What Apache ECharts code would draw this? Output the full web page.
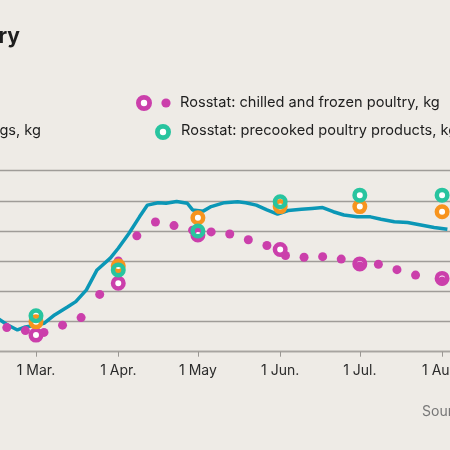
<!DOCTYPE html>
<html>
<head>
<meta charset="utf-8">
<script src="https://cdn.jsdelivr.net/npm/echarts@6/dist/echarts.min.js"></script>
<style>
html,body{margin:0;padding:0;background:#eeebe6;overflow:hidden;}
#c{width:450px;height:450px;}
</style>
</head>
<body>
<div id="c"></div>
<script>
// ---- data ----
const lineDates = ['2021-02-15','2021-02-18','2021-02-22','2021-02-25','2021-03-01','2021-03-04','2021-03-08','2021-03-13','2021-03-16','2021-03-20','2021-03-24','2021-03-29','2021-04-01','2021-04-05','2021-04-09','2021-04-12','2021-04-16','2021-04-19','2021-04-23','2021-04-27','2021-04-29','2021-05-03','2021-05-06','2021-05-11','2021-05-16','2021-05-19','2021-05-23','2021-05-27','2021-05-31','2021-06-04','2021-06-09','2021-06-13','2021-06-17','2021-06-21','2021-06-25','2021-06-30','2021-07-05','2021-07-09','2021-07-14','2021-07-19','2021-07-24','2021-07-29','2021-08-03'];
const lineValues = [10.8,9.0,7.2,8.2,8.8,9.4,12.2,14.9,16.6,20.5,27.1,31.0,34.3,39.2,44.7,48.6,49.4,49.2,49.8,49.2,47.0,46.6,48.1,49.4,49.7,49.4,48.6,47.0,45.6,46.8,47.2,47.5,47.8,46.4,45.3,44.7,44.7,43.9,43.1,42.8,42.0,41.2,40.6];

const weeklyDates = ['2021-02-18','2021-02-25','2021-03-04','2021-03-11','2021-03-18','2021-03-25','2021-04-01','2021-04-08','2021-04-15','2021-04-22','2021-04-29','2021-05-06','2021-05-13','2021-05-20','2021-05-27','2021-06-03','2021-06-10','2021-06-17','2021-06-24','2021-07-01','2021-07-08','2021-07-15','2021-07-22','2021-08-01'];
const weeklyPoultry = [8.0,7.0,6.4,8.8,11.3,19.0,30.1,38.4,43.0,41.8,40.3,39.7,39.0,37.1,35.2,31.9,31.3,31.5,30.7,28.4,29.0,27.2,25.4,23.4];

const monthDates = ['2021-03-01','2021-04-01','2021-05-01','2021-06-01','2021-07-01','2021-08-01'];
const monthlyPoultry = [5.5,22.7,38.7,33.9,29.1,24.3];
const monthlyOrange = [9.9,28.4,44.4,48.1,48.1,46.4];
const monthlyPrecooked = [11.9,27.1,40.0,49.7,51.9,51.9];

const tickDates = ['2021-03-01','2021-04-01','2021-05-01','2021-06-01','2021-07-01','2021-08-01'];
const tickLabels = ['1 Mar.','1 Apr.','1 May','1 Jun.','1 Jul.','1 Aug.'];

const legendPoultry = 'Rosstat: chilled and frozen poultry, kg';
const legendPrecooked = 'Rosstat: precooked poultry products, kg';
const legendLine = 'Online prices: chicken legs, kg';
const titleText = 'Prices of poultry';
const sourceText = 'Source: Rosstat';

// ---- helpers ----
const DAY = 86400000;
function ts(s){const p=s.split('-').map(Number);return Date.UTC(p[0],p[1]-1,p[2]);}
function pairs(d,v){return d.map((x,i)=>[ts(x),v[i]]);}

const BG = '#eeebe6';
const BLUE = '#0b97b6';
const PINK = '#cb3fab';
const ORANGE = '#f7941e';
const GREEN = '#28c49f';
const FONT = 'Inter, "Noto Sans", sans-serif';

const xMin = ts('2021-03-01') - 13.56*DAY;
const xMax = ts('2021-08-01') + 2.98*DAY;
const tickTs = tickDates.map(ts);

function ring(name, d, v, color, z){
  return {name, type:'scatter', data:pairs(d,v), symbol:'circle', symbolSize:10.5, z,
    itemStyle:{color:'rgba(0,0,0,0)', borderColor:color, borderWidth:4.5, opacity:1},
    emphasis:{disabled:true}, silent:true};
}
function hole(d, v){
  return {type:'scatter', data:pairs(d,v), symbol:'circle', symbolSize:10.5, z:3,
    itemStyle:{color:'#ffffff', opacity:1}, emphasis:{disabled:true}, silent:true};
}

const chart = echarts.init(document.getElementById('c'), null, {renderer:'canvas'});
chart.setOption({
  animation:false,
  backgroundColor:BG,
  grid:{left:0,right:0,top:170.7,bottom:98.3,containLabel:false,outerBoundsMode:'none'},
  xAxis:{type:'value', min:xMin, max:xMax, scale:true,
    axisLine:{show:true, onZero:false, lineStyle:{color:'#a7a4a0', width:1.3}},
    axisTick:{show:true, length:5, lineStyle:{color:'#9a9793', width:1}, customValues:tickTs},
    axisLabel:{show:true, margin:12, color:'#2b2b2b', fontSize:14, fontFamily:FONT, customValues:tickTs,
      formatter:function(val){const i=tickTs.indexOf(val);return i>=0?tickLabels[i]:'';}},
    splitLine:{show:false}},
  yAxis:{type:'value', min:0, max:60, interval:10,
    axisLine:{show:false}, axisTick:{show:false}, axisLabel:{show:false},
    splitLine:{show:true, lineStyle:{color:'#9f9c98', width:1.3}}},
  series:[
    {name:legendLine, type:'line', data:pairs(lineDates,lineValues), showSymbol:false, smooth:false, z:2,
      lineStyle:{color:BLUE, width:3.5}, emphasis:{disabled:true}, silent:true},
    hole(monthDates, monthlyPoultry),
    hole(monthDates, monthlyOrange),
    hole(monthDates, monthlyPrecooked),
    {name:legendPoultry+' (weekly)', type:'scatter', data:pairs(weeklyDates,weeklyPoultry), symbol:'circle', symbolSize:9, z:4,
      itemStyle:{color:PINK, opacity:1}, emphasis:{disabled:true}, silent:true},
    ring(legendPoultry, monthDates, monthlyPoultry, PINK, 5),
    ring('Rosstat (orange)', monthDates, monthlyOrange, ORANGE, 6),
    ring(legendPrecooked, monthDates, monthlyPrecooked, GREEN, 7)
  ],
  graphic:[
    {type:'text', x:20, y:37, style:{text:titleText, align:'right', verticalAlign:'middle', fill:'#1e1e1e', font:'bold 21px '+FONT}},
    {type:'circle', shape:{cx:144, cy:103, r:5.6}, style:{fill:'#ffffff', stroke:PINK, lineWidth:4.8}},
    {type:'circle', shape:{cx:166, cy:103, r:4.6}, style:{fill:PINK}},
    {type:'text', x:180, y:103, style:{text:legendPoultry, align:'left', verticalAlign:'middle', fill:'#1e1e1e', font:'14.6px '+FONT}},
    {type:'circle', shape:{cx:163, cy:132, r:5.6}, style:{fill:'#ffffff', stroke:GREEN, lineWidth:4.8}},
    {type:'text', x:181, y:131, style:{text:legendPrecooked, align:'left', verticalAlign:'middle', fill:'#1e1e1e', font:'14.6px '+FONT}},
    {type:'text', x:41, y:131, style:{text:legendLine, align:'right', verticalAlign:'middle', fill:'#1e1e1e', font:'14.6px '+FONT}},
    {type:'text', x:422, y:412, style:{text:sourceText, align:'left', verticalAlign:'middle', fill:'#777777', font:'14px '+FONT}}
  ]
});
</script>
</body>
</html>
